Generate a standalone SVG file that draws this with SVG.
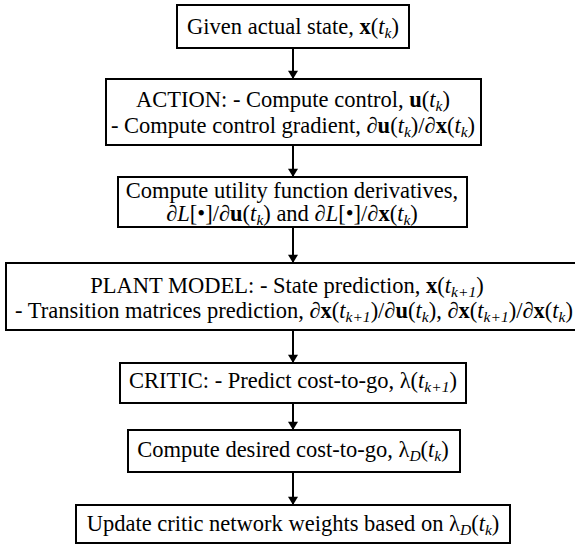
<svg xmlns="http://www.w3.org/2000/svg" width="575" height="548" viewBox="0 0 575 548">
  <style>
    .box { fill: #fff; stroke: #000; stroke-width: 2; }
    text { font-family: "Liberation Serif", "DejaVu Serif", serif; font-size: 22.5px; fill: #000; text-anchor: middle; }
    .b { font-weight: bold; }
    .i { font-style: italic; }
    .sub { font-size: 15.5px; font-style: italic; }
    .conn line { stroke: #000; stroke-width: 2; }
  </style>
  <defs>
    <marker id="arrow" viewBox="0 0 10 12" refX="10" refY="6" markerWidth="12" markerHeight="10" markerUnits="userSpaceOnUse" orient="auto">
      <path d="M0,0 L10,6 L0,12 z" fill="#000"/>
    </marker>
  </defs>
  <rect width="575" height="548" fill="#fff"/>

  <!-- flow arrows, all on the same vertical axis -->
  <g id="connectors" class="conn">
    <line x1="293" y1="48" x2="293" y2="79" marker-end="url(#arrow)"/>
    <line x1="293" y1="145" x2="293" y2="177" marker-end="url(#arrow)"/>
    <line x1="293" y1="227" x2="293" y2="263" marker-end="url(#arrow)"/>
    <line x1="293" y1="330" x2="293" y2="363" marker-end="url(#arrow)"/>
    <line x1="293" y1="403" x2="293" y2="430" marker-end="url(#arrow)"/>
    <line x1="293" y1="472" x2="293" y2="505" marker-end="url(#arrow)"/>
  </g>

  <g id="given-state">
    <rect class="box" x="177" y="5" width="232" height="43"/>
    <text x="293" y="34">Given actual state, <tspan class="b">x</tspan>(<tspan class="i">t</tspan><tspan class="sub" dy="4">k</tspan><tspan dy="-4">)</tspan></text>
  </g>

  <g id="action">
    <rect class="box" x="106" y="79" width="375" height="66"/>
    <text x="293" y="107">ACTION: - Compute control, <tspan class="b">u</tspan>(<tspan class="i">t</tspan><tspan class="sub" dy="4">k</tspan><tspan dy="-4">)</tspan></text>
    <text x="293" y="133">- Compute control gradient, ∂<tspan class="b">u</tspan>(<tspan class="i">t</tspan><tspan class="sub" dy="4">k</tspan><tspan dy="-4">)/∂</tspan><tspan class="b">x</tspan>(<tspan class="i">t</tspan><tspan class="sub" dy="4">k</tspan><tspan dy="-4">)</tspan></text>
  </g>

  <g id="utility">
    <rect class="box" x="118" y="177" width="349" height="50"/>
    <text x="292" y="198">Compute utility function derivatives,</text>
    <text x="292" y="221">∂<tspan class="i">L</tspan>[•]/∂<tspan class="b">u</tspan>(<tspan class="i">t</tspan><tspan class="sub" dy="4">k</tspan><tspan dy="-4">) and ∂</tspan><tspan class="i">L</tspan>[•]/∂<tspan class="b">x</tspan>(<tspan class="i">t</tspan><tspan class="sub" dy="4">k</tspan><tspan dy="-4">)</tspan></text>
  </g>

  <g id="plant-model">
    <rect class="box" x="6" y="263" width="600" height="67"/>
    <text x="287" y="293">PLANT MODEL: - State prediction, <tspan class="b">x</tspan>(<tspan class="i">t</tspan><tspan class="sub" dy="4">k+1</tspan><tspan dy="-4">)</tspan></text>
    <text x="294" y="318" font-size="23">- Transition matrices prediction,  ∂<tspan class="b">x</tspan>(<tspan class="i">t</tspan><tspan class="sub" dy="4">k+1</tspan><tspan dy="-4">)/∂</tspan><tspan class="b">u</tspan>(<tspan class="i">t</tspan><tspan class="sub" dy="4">k</tspan><tspan dy="-4">), ∂</tspan><tspan class="b">x</tspan>(<tspan class="i">t</tspan><tspan class="sub" dy="4">k+1</tspan><tspan dy="-4">)/∂</tspan><tspan class="b">x</tspan>(<tspan class="i">t</tspan><tspan class="sub" dy="4">k</tspan><tspan dy="-4">)</tspan></text>
  </g>

  <g id="critic">
    <rect class="box" x="120" y="363" width="346" height="40"/>
    <text x="293" y="388">CRITIC: - Predict cost-to-go, λ(<tspan class="i">t</tspan><tspan class="sub" dy="4">k+1</tspan><tspan dy="-4">)</tspan></text>
  </g>

  <g id="desired-cost">
    <rect class="box" x="128" y="430" width="332" height="42"/>
    <text x="293" y="457">Compute desired cost-to-go, λ<tspan class="sub" dy="4">D</tspan><tspan dy="-4">(</tspan><tspan class="i">t</tspan><tspan class="sub" dy="4">k</tspan><tspan dy="-4">)</tspan></text>
  </g>

  <g id="update-weights">
    <rect class="box" x="76" y="505" width="434" height="38"/>
    <text x="293" y="531">Update critic network weights based on λ<tspan class="sub" dy="4">D</tspan><tspan dy="-4">(</tspan><tspan class="i">t</tspan><tspan class="sub" dy="4">k</tspan><tspan dy="-4">)</tspan></text>
  </g>
</svg>
